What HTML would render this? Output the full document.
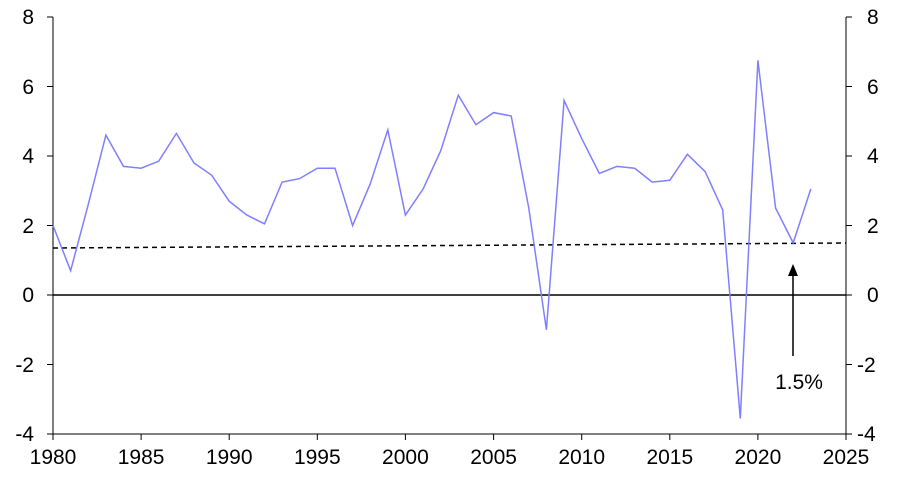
<!DOCTYPE html>
<html><head><meta charset="utf-8"><style>
html,body{margin:0;padding:0;background:#fff;}
svg text{font-family:"Liberation Sans",Arial,sans-serif;font-size:21px;fill:#000;}
</style></head><body>
<svg width="902" height="477" viewBox="0 0 902 477" xmlns="http://www.w3.org/2000/svg">
<g stroke="#000" stroke-width="1">
<line x1="53" y1="17" x2="53" y2="434"/>
<line x1="846" y1="17" x2="846" y2="434"/>
<line x1="53" y1="434" x2="846" y2="434"/>
<line x1="53" y1="295" x2="846" y2="295" stroke-width="1.5"/>
<line x1="47" y1="17" x2="53" y2="17"/><line x1="47" y1="86.5" x2="53" y2="86.5"/><line x1="47" y1="156" x2="53" y2="156"/><line x1="47" y1="225.5" x2="53" y2="225.5"/><line x1="47" y1="295" x2="53" y2="295"/><line x1="47" y1="364.5" x2="53" y2="364.5"/><line x1="47" y1="434" x2="53" y2="434"/>
<line x1="846" y1="17" x2="852" y2="17"/><line x1="846" y1="86.5" x2="852" y2="86.5"/><line x1="846" y1="156" x2="852" y2="156"/><line x1="846" y1="225.5" x2="852" y2="225.5"/><line x1="846" y1="295" x2="852" y2="295"/><line x1="846" y1="364.5" x2="852" y2="364.5"/><line x1="846" y1="434" x2="852" y2="434"/>
<line x1="53" y1="434" x2="53" y2="440"/><line x1="141.1" y1="434" x2="141.1" y2="440"/><line x1="229.2" y1="434" x2="229.2" y2="440"/><line x1="317.3" y1="434" x2="317.3" y2="440"/><line x1="405.4" y1="434" x2="405.4" y2="440"/><line x1="493.6" y1="434" x2="493.6" y2="440"/><line x1="581.7" y1="434" x2="581.7" y2="440"/><line x1="669.8" y1="434" x2="669.8" y2="440"/><line x1="757.9" y1="434" x2="757.9" y2="440"/><line x1="846" y1="434" x2="846" y2="440"/>
</g>
<g text-anchor="end">
<text x="34" y="24">8</text><text x="34" y="94">6</text><text x="34" y="163">4</text><text x="34" y="233">2</text><text x="34" y="302">0</text><text x="34" y="372">-2</text><text x="34" y="441">-4</text>
</g>
<g text-anchor="start">
<text x="867" y="24">8</text><text x="867" y="94">6</text><text x="867" y="163">4</text><text x="867" y="233">2</text><text x="867" y="302">0</text><text x="857" y="372">-2</text><text x="857" y="441">-4</text>
</g>
<g text-anchor="middle">
<text x="53" y="464">1980</text><text x="141.1" y="464">1985</text><text x="229.2" y="464">1990</text><text x="317.3" y="464">1995</text><text x="405.4" y="464">2000</text><text x="493.6" y="464">2005</text><text x="581.7" y="464">2010</text><text x="669.8" y="464">2015</text><text x="757.9" y="464">2020</text><text x="846" y="464">2025</text>
</g>
<line x1="53" y1="248" x2="846" y2="243" stroke="#000" stroke-width="1.5" stroke-dasharray="5,4"/>
<polyline fill="none" stroke="#7f7fff" stroke-width="1.5" points="
53,225.5 70.6,270.7 88.2,204.7 105.9,135.1 123.5,166.4 141.1,168.2 158.7,161.2 176.4,133.4 194,163 211.6,175.1 229.2,201.2 246.9,215.1 264.5,223.8 282.1,182.1 299.7,178.6 317.3,168.2 335,168.2 352.6,225.5 370.2,183.8 387.8,129.9 405.4,215.1 423.1,189 440.7,150.8 458.3,95.2 475.9,124.7 493.6,112.6 511.2,116 528.8,208.1 546.4,329.8 564.1,100.4 581.7,138.6 599.3,173.4 616.9,166.4 634.6,168.2 652.2,182.1 669.8,180.3 687.4,154.3 705.1,171.6 722.7,209.9 740.3,418.4 757.9,60.4 775.6,208.1 793.2,242.9 810.8,189"/>
<line x1="793" y1="356" x2="793" y2="272" stroke="#000" stroke-width="1.5"/>
<polygon points="793,264 788,276 798,276" fill="#000"/>
<text x="799" y="389" text-anchor="middle">1.5%</text>
</svg>
</body></html>
